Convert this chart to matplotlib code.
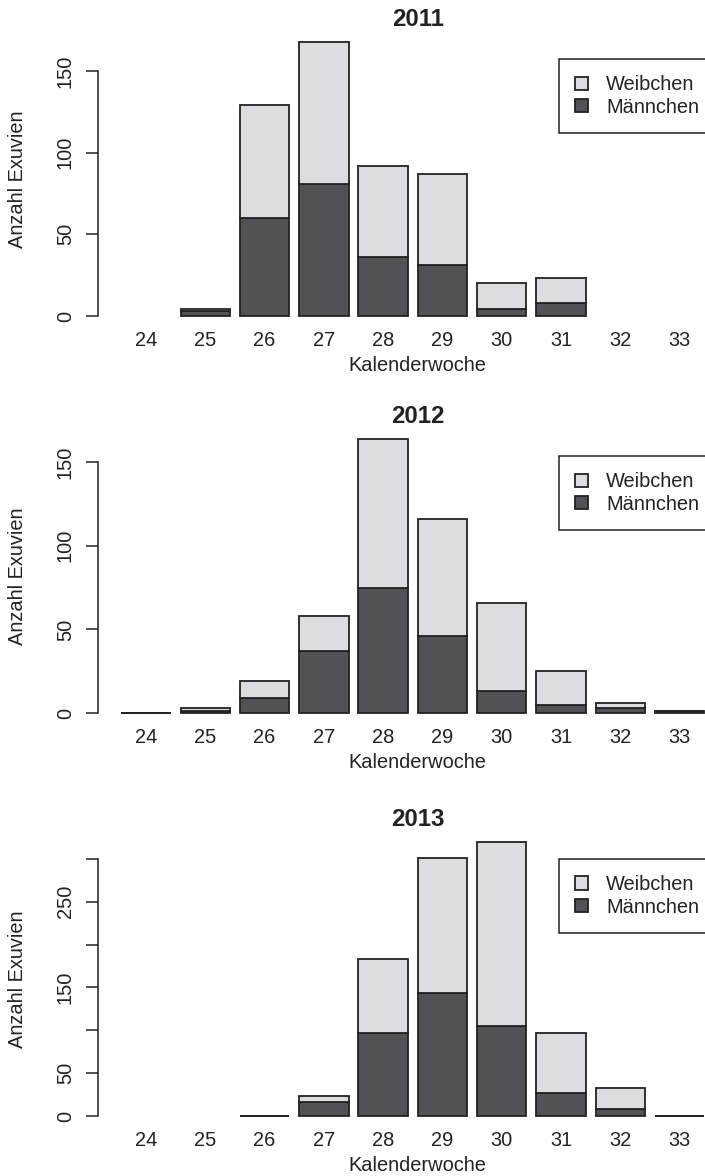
import matplotlib
matplotlib.use("Agg")
import matplotlib.pyplot as plt
import numpy as np

plt.rcParams['font.family'] = ['Liberation Sans', 'DejaVu Sans']
plt.rcParams['font.size'] = 14.4

weeks = ['24', '25', '26', '27', '28', '29', '30', '31', '32', '33']
years = ['2011', '2012', '2013']
nan = np.nan

# maennchen / weibchen per kalenderwoche (nan = no bar drawn)
m2011 = [nan, 3, 60, 81, 36, 31, 4, 8, nan, nan]
w2011 = [nan, 1, 69, 87, 56, 56, 16, 15, nan, nan]
m2012 = [0, 1, 9, 37, 75, 46, 13, 5, 3, 1]
w2012 = [0, 2, 10, 21, 89, 70, 53, 20, 3, 0]
m2013 = [nan, nan, 0, 16, 97, 144, 105, 27, 8, 0]
w2013 = [nan, nan, 0, 7, 86, 157, 215, 70, 25, 0]

maennchen = [m2011, m2012, m2013]
weibchen = [w2011, w2012, w2013]
yticks = [[0, 50, 100, 150], [0, 50, 100, 150], [0, 50, 100, 150, 200, 250, 300]]
ylabs = [['0', '50', '100', '150'], ['0', '50', '100', '150'],
         ['0', '50', '', '150', '', '250', '']]

light = '#dcdddf'
dark = '#525254'
edge = '#222222'

W, H = 705, 1176
fig = plt.figure(figsize=(W / 100, H / 100), dpi=100)

# panel layout in pixels (plot region like R barplot, cut at right edge)
tops = [30.7, 427.7, 830.7]
title_y = [18.3, 419.3, 819.3]
ph = 296.3
left_px = 97.6
width_px = 640.2

x = 0.7 + 1.2 * np.arange(len(weeks))

for k in range(3):
    ax = fig.add_axes([left_px / W, 1 - (tops[k] + ph) / H, width_px / W, ph / H])
    m = np.array(maennchen[k], dtype=float)
    w = np.array(weibchen[k], dtype=float)
    tot = m + w
    ymax = np.nanmax(tot)

    b1 = ax.bar(x, m, width=1, color=dark, edgecolor=edge, linewidth=1.3)
    b2 = ax.bar(x, w, width=1, bottom=m, color=light, edgecolor=edge, linewidth=1.3)

    ax.set_xlim(-0.28, 12.68)
    ax.set_ylim(-0.04 * ymax, 1.04 * ymax)

    for s in ['top', 'right', 'bottom']:
        ax.spines[s].set_visible(False)
    ax.spines['left'].set_bounds(yticks[k][0], yticks[k][-1])
    ax.spines['left'].set_linewidth(1.1)
    ax.spines['left'].set_color(edge)

    ax.set_yticks(yticks[k])
    ax.set_yticklabels(ylabs[k], rotation=90, va='center', color='#222222')
    ax.tick_params(axis='y', length=8.4, width=1.1, color=edge, pad=8)
    ax.set_xticks(x)
    ax.set_xticklabels(weeks, color='#222222')
    ax.tick_params(axis='x', length=0, pad=3)

    ax.set_xlabel('Kalenderwoche', labelpad=4.5, color='#222222')
    ax.set_ylabel('Anzahl Exuvien', color='#222222', va='center')
    ax.yaxis.set_label_coords((17 - left_px) / width_px, 0.5)

    base = title_y[k] + 8.6
    ax.set_title(years[k], fontsize=17.3, fontweight='bold', color='#222222',
                 pad=(tops[k] - base) * 0.72)

    leg = ax.legend([b2, b1], ['Weibchen', 'Männchen'], loc='upper left',
                    bbox_to_anchor=((559 - left_px) / width_px, 1 - 28.5 / ph),
                    borderaxespad=0, fancybox=False, framealpha=1,
                    edgecolor=edge, handlelength=0.65, handleheight=0.65,
                    handletextpad=0.9, borderpad=0.8, labelspacing=0.18,
                    fontsize=14.4)
    leg.get_frame().set_linewidth(1.1)
    for t in leg.get_texts():
        t.set_color('#222222')

plt.savefig('out.png', dpi=100)
